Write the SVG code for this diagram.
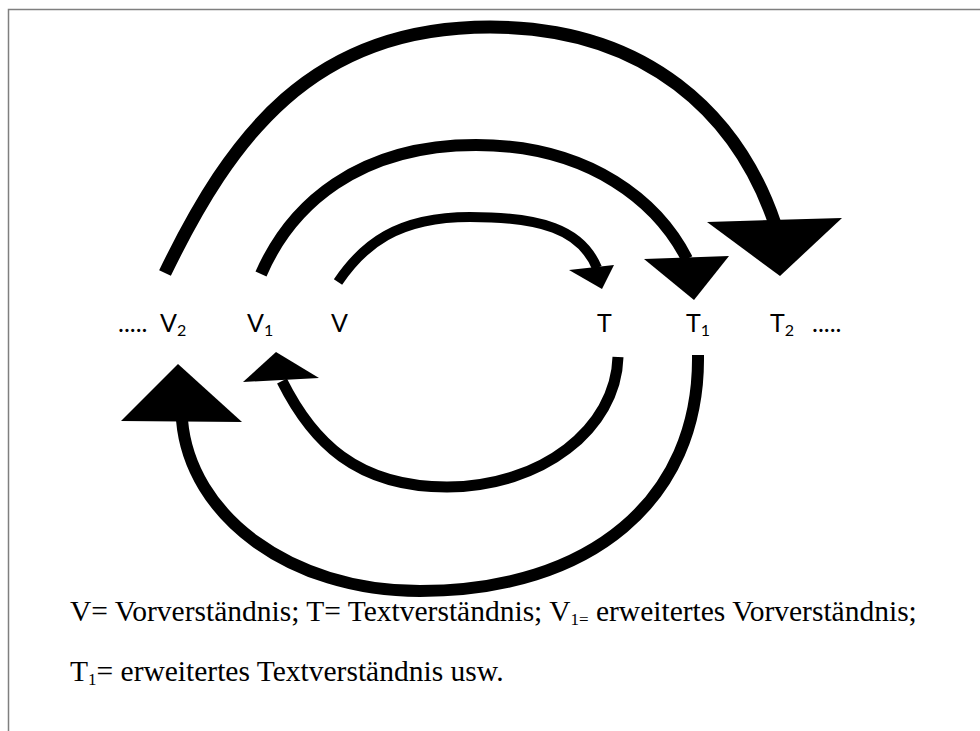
<svg xmlns="http://www.w3.org/2000/svg" width="980" height="731" viewBox="0 0 980 731">
  <style>
    .arc { fill: none; stroke: #000; }
    .head { fill: #000; stroke: none; }
    .lbl { font-family: Lato, "Open Sans", "Liberation Sans", sans-serif; font-size: 25px; fill: #000; }
    .sub { font-size: 16px; }
    .note { font-family: "Liberation Serif", "Times New Roman", serif; font-size: 29.5px; fill: #000; }
    .nsub { font-size: 17px; }
  </style>
  <rect x="0" y="0" width="980" height="731" fill="#fff"/>
  <path d="M8.5 731 V9.5 H980" fill="none" stroke="#7f7f7f" stroke-width="1.5"/>

  <g id="connectors">
    <g id="arc-V2-T2">
      <path class="arc" stroke-width="13" d="M165 273 C231 137 311 27 490 27 C647 27 738 115 775 224"/>
      <polygon class="head" points="707,222 842,218 780,276"/>
    </g>
    <g id="arc-V1-T1">
      <path class="arc" stroke-width="12" d="M261 274 C291 205 358 145 476 145 C592 145 659 204 687 259"/>
      <polygon class="head" points="644,259 729,256 694,300"/>
    </g>
    <g id="arc-V-T">
      <path class="arc" stroke-width="10" d="M338 282 C363 245 397 217 470 217 C540 217 581 229 597 268"/>
      <polygon class="head" points="569,270 614,265 602,289"/>
    </g>
    <g id="arc-T-V1">
      <path class="arc" stroke-width="11" d="M618 357 C616 429 541 487 447 487 C356 487 312 441 282 381"/>
      <polygon class="head" points="243,382 319,378 276,352"/>
    </g>
    <g id="arc-T1-V2">
      <path class="arc" stroke-width="12" d="M698 355 C700 500 590 591 420 591 C289 591 190 515 182 420"/>
      <polygon class="head" points="121,421 242,422 178,364"/>
    </g>
  </g>

  <g id="node-dots-left"><text class="lbl" x="118" y="332">.....</text></g>
  <g id="node-V2"><text class="lbl" x="160" y="332">V<tspan class="sub" dy="4">2</tspan></text></g>
  <g id="node-V1"><text class="lbl" x="247" y="332">V<tspan class="sub" dy="4">1</tspan></text></g>
  <g id="node-V"><text class="lbl" x="331" y="332">V</text></g>
  <g id="node-T"><text class="lbl" x="597" y="332">T</text></g>
  <g id="node-T1"><text class="lbl" x="686" y="332">T<tspan class="sub" dy="4">1</tspan></text></g>
  <g id="node-T2"><text class="lbl" x="770" y="332">T<tspan class="sub" dy="4">2</tspan></text></g>
  <g id="node-dots-right"><text class="lbl" x="812" y="332">.....</text></g>

  <g id="legend">
    <text class="note" x="70" y="621">V= Vorverständnis; T= Textverständnis; V<tspan class="nsub" dy="4">1=</tspan><tspan dy="-4"> erweitertes Vorverständnis;</tspan></text>
    <text class="note" x="70" y="681">T<tspan class="nsub" dy="4">1</tspan><tspan dy="-4">= erweitertes Textverständnis usw.</tspan></text>
  </g>
</svg>
